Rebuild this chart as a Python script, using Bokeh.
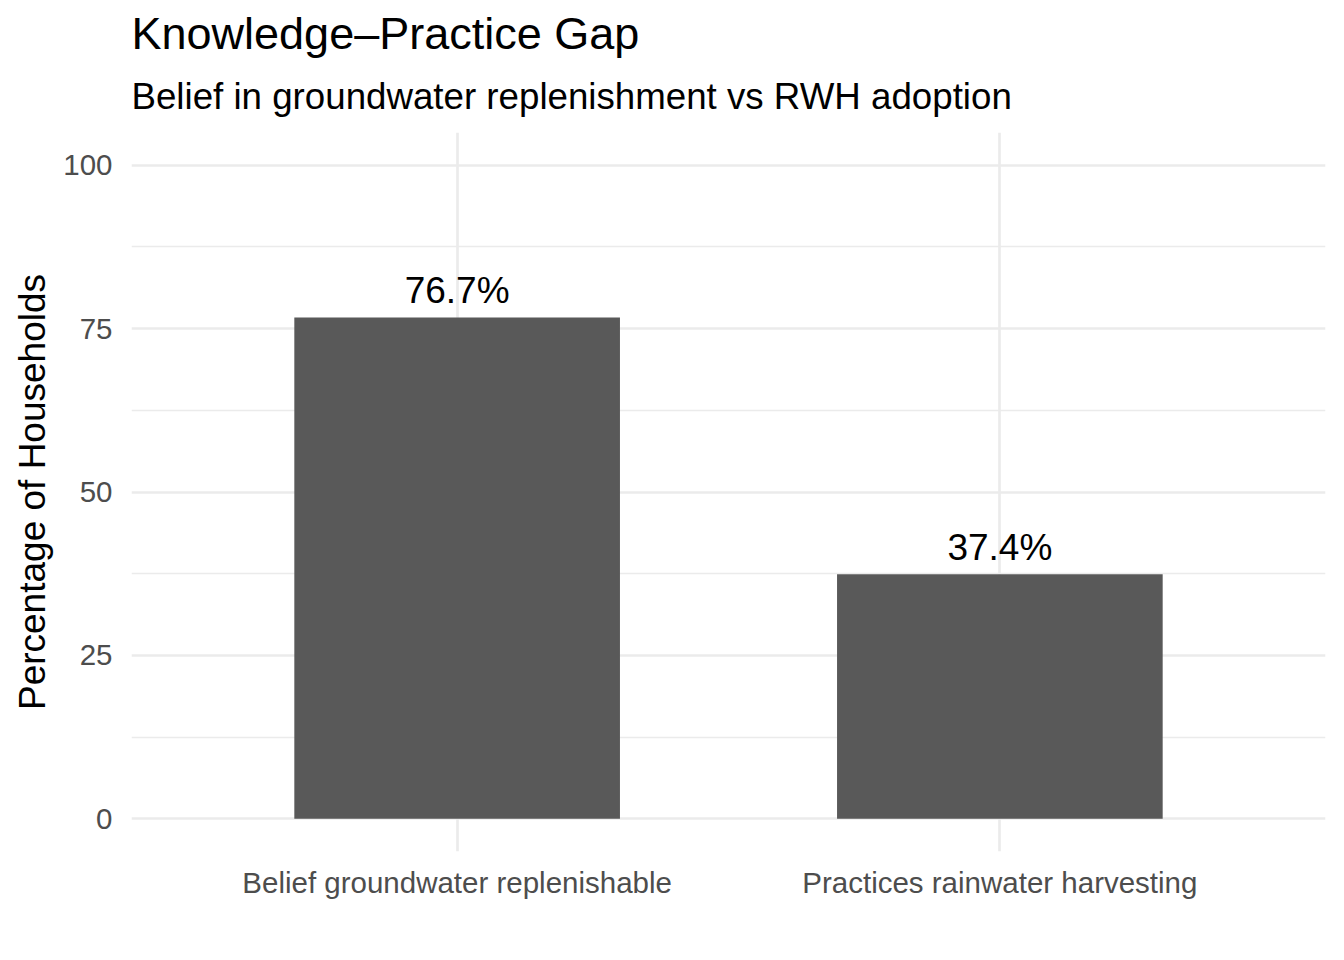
from bokeh.plotting import figure
from bokeh.models import FactorRange, Range1d, FixedTicker, Title, ColumnDataSource
from bokeh.embed import file_html
from bokeh.resources import INLINE
from bokeh.core.properties import value

categories = ["Belief groundwater replenishable", "Practices rainwater harvesting"]
percentages = [76.7, 37.4]
labels = ["76.7%", "37.4%"]
y_ticks = [0, 25, 50, 75, 100]
y_minor = [12.5, 37.5, 62.5, 87.5]

FONT = "Liberation Sans"
GRID = "#EBEBEB"

src = ColumnDataSource(dict(cat=categories, pct=percentages, lab=labels))

p = figure(x_range=FactorRange(*categories, range_padding=0.1),
           y_range=Range1d(-5, 105),
           width=1328, height=944, title=None,
           output_backend="svg", toolbar_location=None,
           min_border_left=131, min_border_right=3,
           min_border_top=132, min_border_bottom=93)

p.vbar(x="cat", top="pct", bottom=0, width=0.6, source=src,
       fill_color="#595959", line_color=None)

p.text(x="cat", y="pct", text="lab", source=src,
       text_align="center", text_baseline="bottom", y_offset=-6,
       text_font=value(FONT), text_font_size="37px", text_color="black")

p.outline_line_color = None
p.background_fill_color = "white"
p.border_fill_color = "white"

p.yaxis.ticker = FixedTicker(ticks=y_ticks, minor_ticks=y_minor)

p.xgrid.grid_line_color = GRID
p.xgrid.grid_line_width = 2.7
p.ygrid.grid_line_color = GRID
p.ygrid.grid_line_width = 2.7
p.ygrid.minor_grid_line_color = GRID
p.ygrid.minor_grid_line_width = 1.3

for ax in (p.xaxis[0], p.yaxis[0]):
    ax.axis_line_color = None
    ax.major_tick_line_color = None
    ax.minor_tick_line_color = None
    ax.major_tick_out = 0
    ax.major_tick_in = 0
    ax.minor_tick_out = 0
    ax.minor_tick_in = 0
    ax.major_label_text_font = FONT
    ax.major_label_text_font_size = "29.5px"
    ax.major_label_text_color = "#4D4D4D"
    ax.axis_label_text_font = FONT
    ax.axis_label_text_font_size = "37px"
    ax.axis_label_text_font_style = "normal"
    ax.axis_label_text_color = "black"

p.yaxis.axis_label = "Percentage of Households"
p.yaxis.major_label_standoff = 19
p.yaxis.axis_label_standoff = 7
p.xaxis.major_label_standoff = 14

p.add_layout(Title(text="Belief in groundwater replenishment vs RWH adoption",
                   text_font=FONT, text_font_size="36.7px", text_font_style="normal",
                   text_color="black", align="left", offset=0, standoff=31), "above")
p.add_layout(Title(text="Knowledge\u2013Practice Gap",
                   text_font=FONT, text_font_size="45px", text_font_style="normal",
                   text_color="black", align="left", offset=0, standoff=0), "above")

open("out.html", "w").write(file_html(p, INLINE))
